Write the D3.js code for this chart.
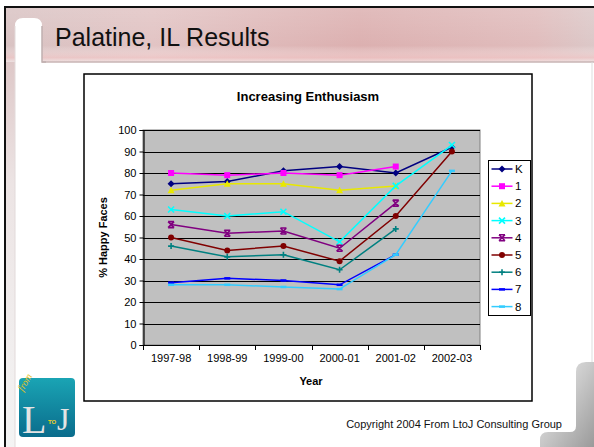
<!DOCTYPE html>
<html><head><meta charset="utf-8">
<script src="https://cdn.jsdelivr.net/npm/d3@7"></script>
<style>html,body{margin:0;padding:0;background:#fff;}svg{display:block;font-family:"Liberation Sans",Arial,sans-serif;}</style>
</head><body>
<svg id="c" width="594" height="447"></svg>
<script>
const categories = ["1997-98","1998-99","1999-00","2000-01","2001-02","2002-03"];
const seriesNames = ["K","1","2","3","4","5","6","7","8"];
const sK = [75,76,81,83,80,92];
const s1 = [80,79,80,79,83,null];
const s2 = [72,75,75,72,74,null];
const s3 = [63,60,62,48,74,93];
const s4 = [56,52,53,45,66,null];
const s5 = [50,44,46,39,60,90];
const s6 = [46,41,42,35,54,null];
const s7 = [29,31,30,28,42,null];
const s8 = [28,28,27,26,42,81];
const yTicks = [0,10,20,30,40,50,60,70,80,90,100];
const seriesValues = [sK,s1,s2,s3,s4,s5,s6,s7,s8];
const colors = ["#000080","#FF00FF","#E8E800","#00FFFF","#800080","#800000","#008080","#0000FF","#33CCFF"];
const markers = ["diamond","square","triangle","x","star","circle","plus","dash","dash"];

const svg = d3.select("#c");
const defs = svg.append("defs");

// ---- slide background ----
const band = defs.append("linearGradient").attr("id","band").attr("x1",0).attr("x2",1).attr("y1",0).attr("y2",0);
band.append("stop").attr("offset","0").attr("stop-color","#d9c3c3");
band.append("stop").attr("offset","0.25").attr("stop-color","#e2c4c4");
band.append("stop").attr("offset","0.6").attr("stop-color","#dcb0b0");
band.append("stop").attr("offset","0.9").attr("stop-color","#e0bcbc");
band.append("stop").attr("offset","1").attr("stop-color","#dcc8c8");
const bandV = defs.append("linearGradient").attr("id","bandV").attr("x1",0).attr("x2",0).attr("y1",0).attr("y2",1);
bandV.append("stop").attr("offset","0").attr("stop-color","#fff").attr("stop-opacity",0.15);
bandV.append("stop").attr("offset","0.7").attr("stop-color","#fff").attr("stop-opacity",0);
bandV.append("stop").attr("offset","0.92").attr("stop-color","#f4c8c8").attr("stop-opacity",0.6);
bandV.append("stop").attr("offset","1").attr("stop-color","#fff").attr("stop-opacity",0.5);
const leftG = defs.append("linearGradient").attr("id","leftG").attr("x1",0).attr("x2",0).attr("y1",0).attr("y2",1);
leftG.append("stop").attr("offset","0").attr("stop-color","#d8bcbc");
leftG.append("stop").attr("offset","0.4").attr("stop-color","#ece4e4");
leftG.append("stop").attr("offset","1").attr("stop-color","#f4f4f4");
const grayG = defs.append("linearGradient").attr("id","grayG").attr("x1",0).attr("x2",1).attr("y1",0).attr("y2",1);
grayG.append("stop").attr("offset","0").attr("stop-color","#f0f0f0");
grayG.append("stop").attr("offset","0.5").attr("stop-color","#c8c8c8");
grayG.append("stop").attr("offset","1").attr("stop-color","#9a9a9a");
const logoG = defs.append("linearGradient").attr("id","logoG").attr("x1",0).attr("x2",0).attr("y1",0).attr("y2",1);
logoG.append("stop").attr("offset","0").attr("stop-color","#1aa4b4");
logoG.append("stop").attr("offset","1").attr("stop-color","#0a6c8c");

svg.append("rect").attr("x",0).attr("y",0).attr("width",594).attr("height",447).attr("fill","#fff");
svg.append("rect").attr("x",6).attr("y",8).attr("width",588).attr("height",439).attr("fill","url(#leftG)");
svg.append("rect").attr("x",15).attr("y",62).attr("width",579).attr("height",385).attr("fill","#fff");
svg.append("rect").attr("x",6).attr("y",8).attr("width",588).attr("height",54).attr("fill","url(#band)");
svg.append("rect").attr("x",6).attr("y",8).attr("width",588).attr("height",54).attr("fill","url(#bandV)");
svg.append("line").attr("x1",42).attr("x2",594).attr("y1",62).attr("y2",62).attr("stroke","#c8b4b4").attr("stroke-width",1.5);
// white tab
svg.append("path").attr("d","M15,447 L15,26 Q15,18 23,18 L34,18 Q42,18 42,26 L42,62 L15,62 Z").attr("fill","#fff");
svg.append("path").attr("d","M42,26 L42,62 L46,62").attr("fill","none").attr("stroke","#c0b0b0").attr("stroke-width",1.5);
svg.append("line").attr("x1",15).attr("x2",15).attr("y1",26).attr("y2",447).attr("stroke","#e2dada").attr("stroke-width",1);
// outer borders
svg.append("rect").attr("x",0).attr("y",0).attr("width",594).attr("height",7).attr("fill","#fff");
svg.append("line").attr("x1",5).attr("x2",594).attr("y1",7).attr("y2",7).attr("stroke","#111").attr("stroke-width",2);
svg.append("line").attr("x1",5).attr("x2",5).attr("y1",6).attr("y2",447).attr("stroke","#111").attr("stroke-width",2);
svg.append("line").attr("x1",592).attr("x2",592).attr("y1",62).attr("y2",447).attr("stroke","#ddd").attr("stroke-width",1);
// bottom-right bevel
svg.append("path").attr("d","M576,372 Q576,362 586,362 L594,362 L594,447 L540,447 L540,440 Q540,432 548,432 L570,432 Q576,432 576,426 Z").attr("fill","url(#grayG)");

svg.append("text").attr("x",55).attr("y",46).attr("font-size",25).attr("fill","#111").text("Palatine, IL Results");

// ---- chart box ----
svg.append("rect").attr("x",84).attr("y",74).attr("width",448).attr("height",327).attr("fill","#fff").attr("stroke","#000").attr("stroke-width",1.5);

const x = d3.scaleBand().domain(categories).range([143,480]);
const y = d3.scaleLinear().domain([0,100]).range([345,130]);
const cx = c => x(c) + x.bandwidth()/2;

svg.append("rect").attr("x",143).attr("y",130).attr("width",337).attr("height",215).attr("fill","#C0C0C0").attr("stroke","#808080").attr("stroke-width",1);
svg.append("g").selectAll("line").data(yTicks.filter(t=>t>0)).join("line")
  .attr("x1",143).attr("x2",480).attr("y1",d=>Math.round(y(d))+0.5).attr("y2",d=>Math.round(y(d))+0.5)
  .attr("stroke","#000").attr("stroke-width",1);

const yAxis = svg.append("g").attr("transform","translate(143.5,0)")
  .call(d3.axisLeft(y).tickValues(yTicks).tickSize(4).tickPadding(3));
const xAxis = svg.append("g").attr("transform","translate(0,345.5)")
  .call(d3.axisBottom(x).tickSize(0).tickPadding(9));
[yAxis,xAxis].forEach(g=>{
  g.selectAll("text").attr("font-size",11).attr("fill","#000").attr("font-family","Liberation Sans, Arial, sans-serif");
  g.select(".domain").attr("stroke","#000").attr("stroke-width",1.2);
  g.selectAll(".tick line").attr("stroke","#000");
});
xAxis.select(".domain").attr("d","M143,0H480");
// category separator ticks
svg.append("g").selectAll("line").data(categories).join("line")
  .attr("x1",d=>Math.round(x(d))+0.5).attr("x2",d=>Math.round(x(d))+0.5).attr("y1",345).attr("y2",350)
  .attr("stroke","#000");
svg.append("line").attr("x1",480.5).attr("x2",480.5).attr("y1",345).attr("y2",350).attr("stroke","#000");

svg.append("text").attr("x",308).attr("y",101).attr("text-anchor","middle").attr("font-size",13).attr("font-weight","bold").text("Increasing Enthusiasm");
svg.append("text").attr("x",311).attr("y",385).attr("text-anchor","middle").attr("font-size",11).attr("font-weight","bold").text("Year");
svg.append("text").attr("transform","translate(107,237.5) rotate(-90)").attr("text-anchor","middle").attr("font-size",11).attr("font-weight","bold").text("% Happy Faces");

function drawMarker(g, type, color, px, py){
  const s = 3;
  if(type==="diamond") g.append("path").attr("d",`M${px},${py-s-0.5}L${px+s+0.5},${py}L${px},${py+s+0.5}L${px-s-0.5},${py}Z`).attr("fill",color);
  else if(type==="square") g.append("rect").attr("x",px-3).attr("y",py-3).attr("width",6).attr("height",6).attr("fill",color);
  else if(type==="triangle") g.append("path").attr("d",`M${px},${py-3.5}L${px+3.5},${py+3}L${px-3.5},${py+3}Z`).attr("fill",color);
  else if(type==="circle") g.append("circle").attr("cx",px).attr("cy",py).attr("r",3).attr("fill",color);
  else if(type==="x") g.append("path").attr("d",`M${px-3},${py-3}L${px+3},${py+3}M${px+3},${py-3}L${px-3},${py+3}`).attr("stroke",color).attr("stroke-width",1.6);
  else if(type==="star") g.append("path").attr("d",`M${px-3},${py-3}L${px+3},${py+3}M${px+3},${py-3}L${px-3},${py+3}M${px-3},${py-3}H${px+3}M${px-3},${py+3}H${px+3}`).attr("stroke",color).attr("stroke-width",1.6);
  else if(type==="plus") g.append("path").attr("d",`M${px-3},${py}H${px+3}M${px},${py-3}V${py+3}`).attr("stroke",color).attr("stroke-width",1.6);
  else if(type==="dash") g.append("path").attr("d",`M${px-3},${py}H${px+3}`).attr("stroke",color).attr("stroke-width",2.5);
}

const line = d3.line().defined(d=>d.v!==null).x(d=>cx(d.c)).y(d=>y(d.v));
seriesValues.forEach((vals,i)=>{
  const g = svg.append("g");
  const pts = categories.map((c,j)=>({c, v: vals[j]}));
  g.append("path").datum(pts).attr("d",line).attr("fill","none").attr("stroke",colors[i]).attr("stroke-width",1.5);
  pts.filter(p=>p.v!==null).forEach(p=>drawMarker(g, markers[i], colors[i], cx(p.c), y(p.v)));
});

// legend
const lg = svg.append("g");
lg.append("rect").attr("x",488.5).attr("y",160.5).attr("width",42).attr("height",155).attr("fill","#fff").attr("stroke","#000").attr("stroke-width",1);
seriesNames.forEach((n,i)=>{
  const ly = 169 + i*17.2;
  lg.append("line").attr("x1",491.5).attr("x2",512.5).attr("y1",ly).attr("y2",ly).attr("stroke",colors[i]).attr("stroke-width",1.5);
  drawMarker(lg, markers[i], colors[i], 502, ly);
  lg.append("text").attr("x",515).attr("y",ly+4).attr("font-size",11.5).text(n);
});

svg.append("text").attr("x",562).attr("y",428).attr("text-anchor","end").attr("font-size",11).attr("fill","#111").text("Copyright 2004 From LtoJ Consulting Group");

// logo
const logo = svg.append("g");
logo.append("rect").attr("x",19).attr("y",378).attr("width",56).attr("height",59).attr("rx",4).attr("fill","url(#logoG)");
logo.append("text").attr("x",22).attr("y",433).attr("font-family","Liberation Serif, serif").attr("font-size",40).attr("fill","#e4e4e4").text("L");
logo.append("text").attr("x",57).attr("y",430).attr("font-family","Liberation Serif, serif").attr("font-size",32).attr("fill","#e4e4e4").text("J");
logo.append("text").attr("x",48).attr("y",424).attr("font-size",6).attr("font-weight","bold").attr("fill","#f0d020").text("TO");
logo.append("text").attr("transform","translate(23,392) rotate(-60)").attr("font-family","Liberation Serif, serif").attr("font-style","italic").attr("font-size",10).attr("fill","#e8c020").text("from");
</script>
</body></html>
